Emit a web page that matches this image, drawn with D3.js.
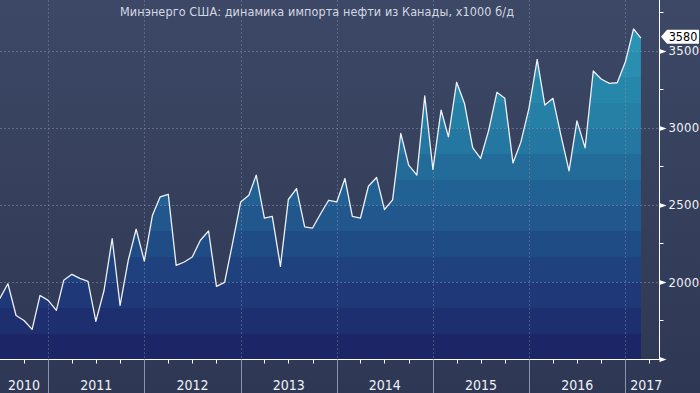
<!DOCTYPE html>
<html><head><meta charset="utf-8">
<script src="https://cdn.jsdelivr.net/npm/d3@7"></script>
<style>
html,body{margin:0;padding:0;background:#343f5c;}
svg{display:block;}
text{font-family:"Liberation Sans Narrow","DejaVu Sans Condensed","Arial Narrow",sans-serif;}
</style></head>
<body>
<script>
const title = "Минэнерго США: динамика импорта нефти из Канады, x1000 б/д";
const startMonth = "2010-07";
const values = [
  1891, 1988, 1782, 1750, 1692, 1912,
  1880, 1815, 2010, 2049, 2023, 2003, 1744, 1944, 2281, 1847, 2140, 2341,
  2135, 2432, 2551, 2568, 2107, 2129, 2161, 2270, 2330, 1971, 1997, 2250,
  2518, 2562, 2692, 2414, 2425, 2101, 2534, 2605, 2356, 2349, 2443, 2529,
  2518, 2670, 2425, 2414, 2620, 2677, 2469, 2532, 2962, 2757, 2692, 3205,
  2729, 3114, 2940, 3294, 3157, 2871, 2800, 2984, 3229, 3190, 2771, 2906,
  3127, 3443, 3146, 3190, 2951, 2720, 3044, 2869, 3367, 3315, 3287, 3291,
  3427, 3640, 3580
];
const yearLabels = ["2010","2011","2012","2013","2014","2015","2016","2017"];
const yMajorTicks = [1500, 2000, 2500, 3000, 3500];
const yMinorTicks = [1750, 2250, 2750, 3250, 3750];
const lastLabel = "3580";

const W = 700, H = 393;
const plotR = 659.5, plotB = 359.5;

const parse = d3.utcParse("%Y-%m");
const d0 = parse(startMonth);
const data = values.map((v, i) => ({date: d3.utcMonth.offset(d0, i), value: v}));

const x = d3.scaleUtc()
  .domain([new Date(Date.UTC(2011,0,1)), new Date(Date.UTC(2017,0,1))])
  .range([48.2, 625.4]);
const y = d3.scaleLinear().domain([1500, 3500]).range([359, 50.5]);

const svg = d3.select("body").append("svg").attr("width", W).attr("height", H);
const defs = svg.append("defs");

const bg = defs.append("linearGradient").attr("id","bg")
  .attr("x1",0).attr("y1",0).attr("x2",0).attr("y2",1);
bg.append("stop").attr("offset",0).attr("stop-color","#3d4866");
bg.append("stop").attr("offset",1).attr("stop-color","#2e3854");
svg.append("rect").attr("width",W).attr("height",H).attr("fill","url(#bg)");

const anchors = [[359,"#1c2263"],[282,"#1f3d7c"],[205,"#215c90"],[128,"#257da3"],[50,"#2a92b3"],[0,"#2d9bb9"]];
function colAt(py){
  for (let i=0;i<anchors.length-1;i++){
    const [ya,ca]=anchors[i],[yb,cb]=anchors[i+1];
    if (py<=ya && py>=yb) return d3.interpolateRgb(ca,cb)((ya-py)/(ya-yb));
  }
  return anchors[anchors.length-1][1];
}
const ag = defs.append("linearGradient").attr("id","ag")
  .attr("gradientUnits","userSpaceOnUse").attr("x1",0).attr("y1",plotB).attr("x2",0).attr("y2",0);
const bandH = 25.7;
for (let k=0; k*bandH < plotB; k++){
  const yTop = Math.max(0, plotB - (k+1)*bandH), yBot = plotB - k*bandH;
  const c = colAt((yTop+yBot)/2);
  ag.append("stop").attr("offset",(k*bandH/plotB)).attr("stop-color",c);
  ag.append("stop").attr("offset",Math.min(1,(k+1)*bandH/plotB)).attr("stop-color",c);
}

defs.append("clipPath").attr("id","clip").append("rect")
  .attr("x",0).attr("y",0).attr("width",plotR).attr("height",plotB);

const g = svg.append("g").attr("clip-path","url(#clip)");

const area = d3.area().x(d=>x(d.date)).y0(plotB).y1(d=>y(d.value));
g.append("path").datum(data).attr("d",area).attr("fill","url(#ag)");

const years = d3.utcYear.range(new Date(Date.UTC(2010,0,1)), new Date(Date.UTC(2018,1,1)));
g.selectAll(".hg").data([2000,2500,3000,3500]).join("line")
  .attr("x1",0).attr("x2",plotR).attr("y1",d=>Math.round(y(d))+0.5).attr("y2",d=>Math.round(y(d))+0.5)
  .attr("stroke","#8c97b3").attr("stroke-opacity",0.5).attr("stroke-dasharray","2,2").attr("stroke-width",1);
g.selectAll(".vg").data(years.slice(1)).join("line")
  .attr("x1",d=>Math.round(x(d))+0.5).attr("x2",d=>Math.round(x(d))+0.5).attr("y1",0).attr("y2",plotB)
  .attr("stroke","#8c97b3").attr("stroke-opacity",0.4).attr("stroke-dasharray","2,2");

const line = d3.line().x(d=>x(d.date)).y(d=>y(d.value));
g.append("path").datum(data).attr("d",line).attr("fill","none")
  .attr("stroke","#eef1f6").attr("stroke-width",1.3).attr("stroke-linejoin","round");

svg.append("line").attr("x1",0).attr("x2",plotR).attr("y1",plotB).attr("y2",plotB).attr("stroke","#ffffff").attr("stroke-width",1);
svg.append("line").attr("x1",plotR).attr("x2",plotR).attr("y1",0).attr("y2",plotB).attr("stroke","#ffffff").attr("stroke-width",1);

const quarters = d3.utcMonth.every(3).range(new Date(Date.UTC(2010,6,1)), new Date(Date.UTC(2017,5,1)))
  .filter(d=>d.getUTCMonth()!==0 && x(d)>=0 && x(d)<=plotR);
svg.selectAll(".qt").data(quarters).join("line")
  .attr("x1",d=>Math.round(x(d))+0.5).attr("x2",d=>Math.round(x(d))+0.5)
  .attr("y1",plotB).attr("y2",plotB+4).attr("stroke","#ffffff");

svg.selectAll(".ys").data(years.slice(1).filter(d=>x(d)<plotR)).join("line")
  .attr("x1",d=>Math.round(x(d))+0.5).attr("x2",d=>Math.round(x(d))+0.5)
  .attr("y1",plotB).attr("y2",H).attr("stroke","#8a94aa").attr("stroke-width",1);

svg.selectAll(".yl").data(yearLabels).join("text")
  .attr("x",(d)=>{
    const a = Math.max(0, x(new Date(Date.UTC(+d,0,1))));
    const b = Math.min(667, x(new Date(Date.UTC(+d+1,0,1))));
    return (a+b)/2;
  })
  .attr("y",390).attr("text-anchor","middle").attr("fill","#f0f2f6")
  .attr("font-size",14).text(d=>d);

svg.selectAll(".ymin").data(yMinorTicks).join("line")
  .attr("x1",plotR).attr("x2",plotR+4).attr("y1",d=>Math.round(y(d))+0.5).attr("y2",d=>Math.round(y(d))+0.5)
  .attr("stroke","#ffffff");
svg.selectAll(".ytri").data(yMajorTicks).join("path")
  .attr("d",d=>{const yy=Math.round(y(d))+0.5; return `M${plotR},${yy-2.5}L${plotR+7},${yy}L${plotR},${yy+2.5}Z`;})
  .attr("fill","#ffffff");
svg.selectAll(".ylab").data(yMajorTicks.filter(d=>d>1500)).join("text")
  .attr("x",668.5).attr("y",d=>y(d)).attr("dy","0.36em")
  .attr("fill","#f0f2f6").attr("font-size",13).attr("letter-spacing",0.3).text(d=>d);

const last = data[data.length-1];
const ly = y(last.value) - 1.5;
svg.append("path")
  .attr("d",`M661,${ly}L667,${ly-7}L699,${ly-7}L699,${ly+7}L667,${ly+7}Z`)
  .attr("fill","#ffffff");
svg.append("text").attr("x",683).attr("y",ly).attr("dy","0.36em").attr("text-anchor","middle")
  .attr("fill","#000000").attr("font-size",12.5).text(lastLabel);

svg.append("text").attr("x",317).attr("y",16).attr("text-anchor","middle")
  .attr("fill","#d4d8e2").attr("font-size",12.5).attr("letter-spacing",0.1).text(title);
</script>
</body></html>
